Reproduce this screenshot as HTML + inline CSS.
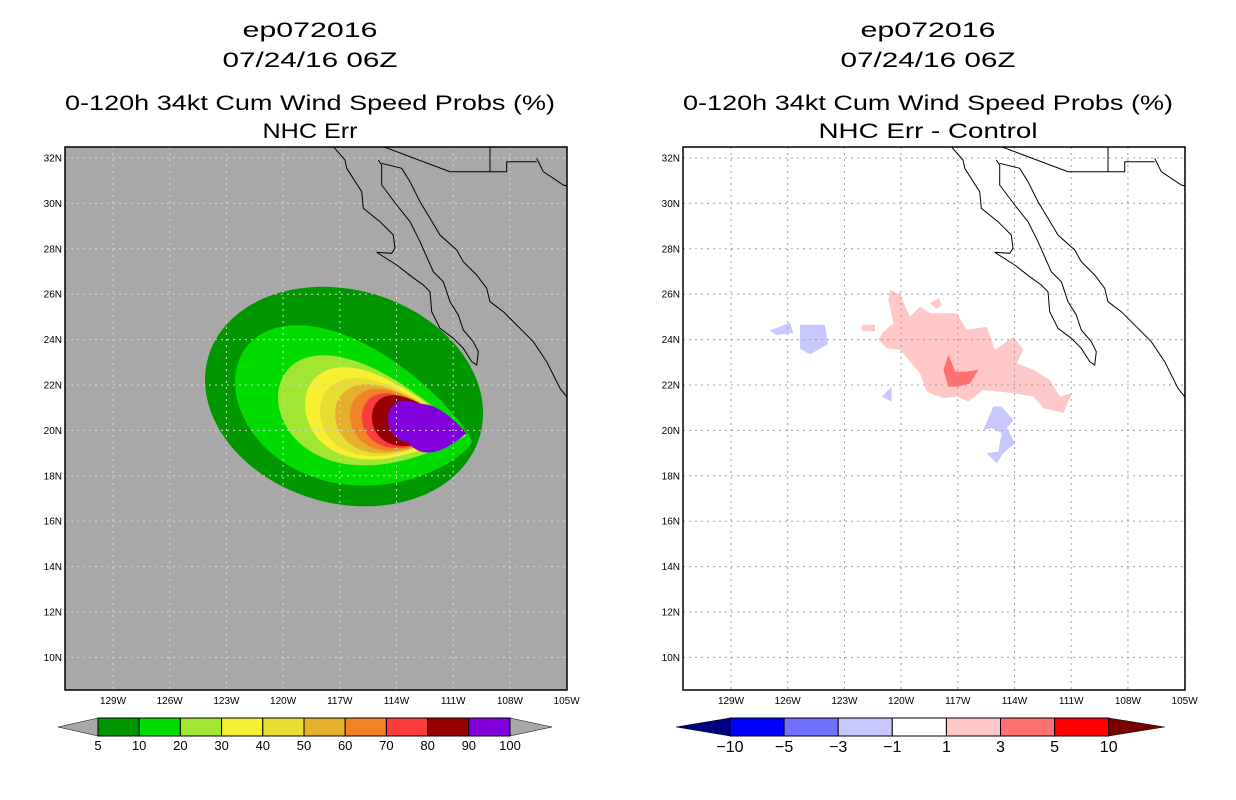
<!DOCTYPE html>
<html><head><meta charset="utf-8"><style>
body{margin:0;background:#fff;}
svg{display:block;font-family:"Liberation Sans",sans-serif;}
</style></head><body>
<svg id="c" width="1236" height="800" viewBox="0 0 1236 800">
<defs>
<clipPath id="clipL"><rect x="65" y="147" width="502" height="543"/></clipPath>
<clipPath id="clipR"><rect x="683" y="147" width="502" height="543"/></clipPath>
</defs>
<g font-size="21" text-anchor="middle" fill="#000">
<text x="310" y="37" textLength="135" lengthAdjust="spacingAndGlyphs">ep072016</text>
<text x="310" y="67" textLength="175" lengthAdjust="spacingAndGlyphs">07/24/16 06Z</text>
<text x="310" y="110" textLength="490" lengthAdjust="spacingAndGlyphs">0-120h 34kt Cum Wind Speed Probs (%)</text>
<text x="310" y="138" textLength="95" lengthAdjust="spacingAndGlyphs">NHC Err</text>
<text x="928" y="37" textLength="135" lengthAdjust="spacingAndGlyphs">ep072016</text>
<text x="928" y="67" textLength="175" lengthAdjust="spacingAndGlyphs">07/24/16 06Z</text>
<text x="928" y="110" textLength="490" lengthAdjust="spacingAndGlyphs">0-120h 34kt Cum Wind Speed Probs (%)</text>
<text x="928" y="138" textLength="219" lengthAdjust="spacingAndGlyphs">NHC Err - Control</text>
</g>
<rect x="65" y="147" width="502" height="543" fill="#a8a8a8"/>
<rect x="683" y="147" width="502" height="543" fill="#fff"/>
<g id="L" clip-path="url(#clipL)"></g>
<g id="R" clip-path="url(#clipR)"></g>
<rect x="65" y="147" width="502" height="543" fill="none" stroke="#000" stroke-width="1.5"/>
<rect x="683" y="147" width="502" height="543" fill="none" stroke="#000" stroke-width="1.5"/>
<g id="axes" font-size="10" fill="#000"></g>
<g id="cbL"></g>
<g id="cbR"></g>
</svg>
<script>
// ---- data ----
const lonTicks = [129,126,123,120,117,114,111,108,105];
const latTicks = [32,30,28,26,24,22,20,18,16,14,12,10];
const probLevels = [5,10,20,30,40,50,60,70,80,90,100];
const probColors = ["#009600","#00dc00","#a0e632","#f5f032","#e6dc32","#e6af2d","#f08228","#fa3c3c","#960000","#8200dc"];
// contour extents per level: west lon, east lon, north lat, south lat (deg W / deg N)
const contWest  = [124.13,122.54,120.27,118.84,118.05,117.25,116.46,115.83,115.30,114.45,113.6];
const contEast  = [109.42,110.0,110.3,110.35,110.37,110.37,110.37,110.37,110.37,110.37,110.3];
const contNorth = [26.27,24.95,23.54,23.01,22.53,22.22,22.0,21.78,21.69,21.43,21.12];
const contSouth = [16.71,18.26,18.87,19.05,19.14,19.22,19.31,19.40,19.49,19.58,19.0];
const contPoint = [0,0.3,0.5,0.6,0.65,0.7,0.75,0.8,0.8,0.85,0.5];
const contTilt  = [0.12,0.1,0.06,0.03,0,0,0,0,0,0,0.1];
const tipLon = 110.11, tipLat = 20.02;
const diffLevels = ["-10","-5","-3","-1","1","3","5","10"];
const diffColors = ["#0000ff","#7070ff","#c8c8ff","#ffffff","#ffc8c8","#ff7070","#ff0000"];
const diffPink = [[120.58,26.19],[120.05,25.97],[119.53,25.01],[119.00,25.46],[118.47,25.16],[117.06,25.16],[116.53,24.43],[115.47,24.57],[115.03,23.55],[114.06,24.13],[113.53,23.55],[113.88,22.96],[113.0,22.67],[112.12,22.22],[111.59,21.49],[110.97,21.64],[111.41,20.76],[112.47,20.98],[113.0,21.49],[114.06,21.64],[115.65,21.78],[116.44,21.27],[117.06,21.49],[117.76,21.42],[118.64,21.71],[119.0,22.52],[119.61,23.11],[120.05,23.55],[120.76,23.62],[121.20,23.99],[120.94,24.35],[120.41,24.72],[120.67,25.75]];
const diffPinkSmall1 = [[122.08,24.65],[121.38,24.65],[121.38,24.37],[122.08,24.37]];
const diffPinkSmall2 = [[118.47,25.60],[118.0,25.82],[117.85,25.50],[118.1,25.35]];
const diffRed = [[117.5,23.33],[117.14,22.59],[116.53,22.59],[115.91,22.67],[116.35,22.08],[116.97,21.93],[117.5,21.93],[117.76,22.67]];
const diffBlue1 = [[115.65,20.02],[115.12,21.05],[114.68,21.05],[114.06,20.46],[114.41,20.10],[113.97,19.43],[114.59,18.99],[114.94,18.55],[115.47,18.99],[114.85,19.07],[114.68,19.88],[115.2,20.10]];
const diffBlue2 = [[121.02,21.49],[120.5,21.93],[120.5,21.27]];
const diffBlue3 = [[125.35,24.65],[124.03,24.65],[123.87,23.8],[124.82,23.35],[125.35,23.6]];
const diffBlue4 = [[126.94,24.4],[125.88,24.75],[125.7,24.3],[126.6,24.2]];

// ---- helpers ----
const NS="http://www.w3.org/2000/svg";
function mk(tag,attrs,parent){const e=document.createElementNS(NS,tag);for(const k in attrs)e.setAttribute(k,attrs[k]);parent.appendChild(e);return e;}
const PX=18.9, PY=22.7;
function xL(w){return 113+(129-w)*PX;}
function xR(w){return 731+(129-w)*PX;}
function yM(lat){return 158+(32-lat)*PY;}

const L=document.getElementById('L'), R=document.getElementById('R'), A=document.getElementById('axes');

// ---- left contours ----
for(let i=0;i<contWest.length;i++){
  const xw=xL(contWest[i]), xe=xL(contEast[i]), yt=yM(contNorth[i]), yb=yM(contSouth[i]);
  const p=contPoint[i], tilt=contTilt[i];
  const cx=(xw+xe)/2, a=(xe-xw)/2, ymid=(yt+yb)/2;
  let mx=0; for(let t=0;t<Math.PI;t+=0.01){mx=Math.max(mx,Math.sin(t)*Math.pow((1-Math.cos(t))/2,p));}
  const b=(yb-yt)/2/mx;
  const ytip=yM(tipLat);
  const pts=[];
  for(let k=0;k<180;k++){
    const t=k/180*2*Math.PI, ux=Math.cos(t), uy=Math.sin(t);
    let cy = p>0 ? ymid+(ytip-ymid)*((ux+1)/2) : ymid;
    cy += tilt*a*ux;
    pts.push((cx+a*ux).toFixed(1)+","+(cy-b*uy*Math.pow((1-ux)/2,p)).toFixed(1));
  }
  const poly=mk('polygon',{points:pts.join(' '),fill:probColors[Math.min(i,probColors.length-1)]},L);
  
  
}

// ---- right difference regions ----
function region(arr,col,name){
  const poly=mk('polygon',{points:arr.map(p=>xR(p[0]).toFixed(1)+","+yM(p[1]).toFixed(1)).join(' '),fill:col},R);
  
  
}
region(diffPink,"#ffc8c8","diff-region-1to3");
region(diffPinkSmall1,"#ffc8c8","diff-region-1to3-small");
region(diffPinkSmall2,"#ffc8c8","diff-region-1to3-small");
region(diffRed,"#ff7070","diff-region-3to5");
region(diffBlue1,"#c8c8ff","diff-region-neg1to3");
region(diffBlue2,"#c8c8ff","diff-region-neg1to3");
region(diffBlue3,"#c8c8ff","diff-region-neg1to3");
region(diffBlue4,"#c8c8ff","diff-region-neg1to3");

// ---- grid + coast ----
const coastWest=[[10,5],[45,45],[50,70],[95,140],[100,190],[150,230],[190,270],[195,310],[185,325],[140,322],[200,360],[245,395],[280,420],[300,440],[305,500],[330,550],[370,580],[400,610],[425,650],[440,660],[445,620],[430,590],[400,555],[385,510],[360,470],[340,410],[310,380],[270,290],[240,230],[200,180],[155,120],[155,60],[145,45]];
const coastMain=[[155,55],[215,70],[240,110],[270,170],[300,220],[330,270],[380,315],[400,350],[440,390],[470,430],[480,470],[520,500],[570,550],[610,590],[650,650],[690,730],[714,760]];
const border1=[[160,5],[360,80],[480,80],[480,5]];
const border2=[[480,80],[530,80],[530,50],[620,50]];
const border3=[[620,40],[640,80],[700,120],[720,125]];
function drawMap(g,off,gridCol){
  const x0=off?683:65;
  lonTicks.forEach(w=>{const x=off?xR(w):xL(w);
    const l=mk('line',{x1:x,x2:x,y1:147,y2:690,stroke:gridCol,'stroke-width':1,'stroke-dasharray':'2,4'},g);
    });
  latTicks.forEach(la=>{const y=yM(la);
    const l=mk('line',{x1:x0,x2:x0+502,y1:y,y2:y,stroke:gridCol,'stroke-width':1,'stroke-dasharray':'2,4'},g);
    });
  const dx=off?618:0;
  [coastWest,coastMain,border1,border2,border3].forEach((arr,j)=>{
    const pl=mk('polyline',{points:arr.map(p=>(330+dx+p[0]/3).toFixed(1)+","+(145+p[1]/3).toFixed(1)).join(' '),fill:'none',stroke:'#000','stroke-width':1},g);
    
  });
}
drawMap(L,false,"#d4d4d4");
drawMap(R,true,"#a0a0a0");

// ---- axis labels ----
[false,true].forEach(r=>{
  lonTicks.forEach(w=>{const x=r?xR(w):xL(w);
    const t=mk('text',{x:x,y:704,'text-anchor':'middle'},A);t.textContent=w+"W";
    });
  latTicks.forEach(la=>{const y=yM(la);
    const t=mk('text',{x:r?680:62,y:y+3.5,'text-anchor':'end'},A);t.textContent=la+"N";
    });
});

// ---- colorbars ----
const cbL=document.getElementById('cbL'), cbR=document.getElementById('cbR');
(function(){
  const x0=98,w=41.2,y0=718,h=18;
  mk('polygon',{points:`58,${y0+h/2} ${x0},${y0} ${x0},${y0+h}`,fill:'#a8a8a8',stroke:'#000','stroke-width':0.5},cbL);
  const xe=x0+w*probColors.length;
  mk('polygon',{points:`${xe},${y0} ${xe+42},${y0+h/2} ${xe},${y0+h}`,fill:'#a8a8a8',stroke:'#000','stroke-width':0.5},cbL);
  probColors.forEach((c,i)=>{const r=mk('rect',{x:x0+i*w,y:y0,width:w,height:h,fill:c,stroke:'#000','stroke-width':1},cbL);
    });
  probLevels.forEach((v,i)=>{const t=mk('text',{x:x0+i*w,y:750,'text-anchor':'middle','font-size':13},cbL);t.textContent=v;
    });
})();
(function(){
  const x0=730,w=54.1,y0=718,h=18;
  mk('polygon',{points:`676,${y0+h/2} ${x0},${y0} ${x0},${y0+h}`,fill:'#000080',stroke:'#000','stroke-width':0.5},cbR);
  const xe=x0+w*diffColors.length;
  mk('polygon',{points:`${xe},${y0} ${xe+56},${y0+h/2} ${xe},${y0+h}`,fill:'#780000',stroke:'#000','stroke-width':0.5},cbR);
  diffColors.forEach((c,i)=>{const r=mk('rect',{x:x0+i*w,y:y0,width:w,height:h,fill:c,stroke:'#000','stroke-width':1},cbR);
    });
  diffLevels.forEach((v,i)=>{const t=mk('text',{x:x0+i*w,y:752,'text-anchor':'middle','font-size':16},cbR);t.textContent=v.replace('-','\u2212');
    });
})();
</script>
</body></html>
